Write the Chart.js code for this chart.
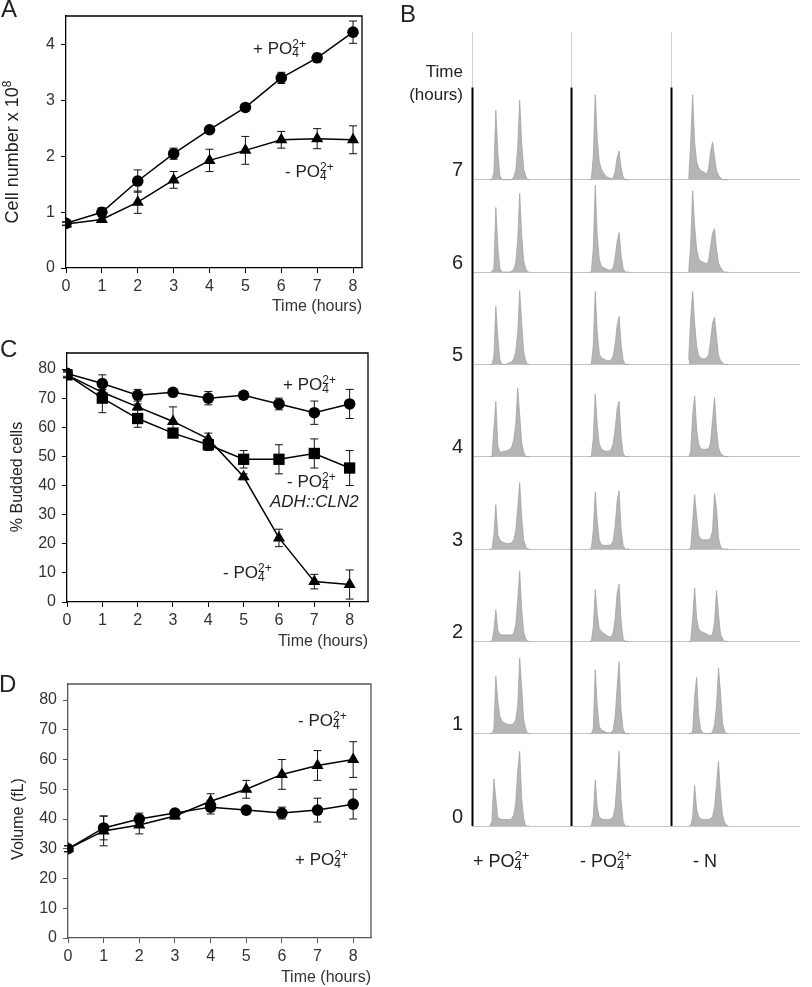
<!DOCTYPE html>
<html>
<head>
<meta charset="utf-8">
<script src="https://cdn.jsdelivr.net/npm/chart.js@4.4.1/dist/chart.umd.min.js"></script>
<style>
body{margin:0;background:#fff;font-family:"Liberation Sans",Arial,sans-serif;color:#222}
#wrap{position:relative;width:812px;height:987px;overflow:hidden}
canvas{position:absolute}
.t{position:absolute;white-space:nowrap;font-size:17px;line-height:17px}
.t .sb{font-size:12px;position:relative;top:3px}
.t .sp{font-size:12px;position:relative;top:-6px;margin-left:-6.7px}
.b{font-size:18px;line-height:18px}
.b .sb{font-size:13px}
.b .sp{font-size:13px;top:-7px;margin-left:-7.2px}
.letter{position:absolute;font-size:24px;line-height:24px}
.yt{position:absolute;transform:translate(-50%,-50%) rotate(-90deg);font-size:16px;line-height:16px;white-space:nowrap}
.yt .sup{font-size:12px;position:relative;top:-7px}
</style>
</head>
<body>
<div id="wrap">
  <canvas id="chartA" width="380" height="316" style="left:0;top:0"></canvas>
  <canvas id="chartC" width="380" height="321" style="left:0;top:330px"></canvas>
  <canvas id="chartD" width="380" height="327" style="left:0;top:660px"></canvas>
  <canvas id="chartB" width="412" height="987" style="left:400px;top:0"></canvas>

  <div class="letter" style="left:1px;top:-3px">A</div>
  <div class="letter" style="left:400px;top:2px">B</div>
  <div class="letter" style="left:0;top:337px">C</div>
  <div class="letter" style="left:-1px;top:672px">D</div>

  <div class="yt" style="left:13px;top:152px;font-size:18px">Cell number x 10<span class="sup">8</span></div>
  <div class="yt" style="left:17px;top:477px">% Budded cells</div>
  <div class="yt" style="left:18px;top:819px">Volume (fL)</div>

  <div class="t" style="left:253px;top:40px">+ PO<span class="sb">4</span><span class="sp">2+</span></div>
  <div class="t" style="left:285px;top:163px">- PO<span class="sb">4</span><span class="sp">2+</span></div>

  <div class="t" style="left:283px;top:376px">+ PO<span class="sb">4</span><span class="sp">2+</span></div>
  <div class="t" style="left:287px;top:473px">- PO<span class="sb">4</span><span class="sp">2+</span></div>
  <div class="t" style="left:270px;top:493px;font-style:italic">ADH::CLN2</div>
  <div class="t" style="left:223px;top:564px">- PO<span class="sb">4</span><span class="sp">2+</span></div>

  <div class="t" style="left:298px;top:712px">- PO<span class="sb">4</span><span class="sp">2+</span></div>
  <div class="t" style="left:295px;top:851px">+ PO<span class="sb">4</span><span class="sp">2+</span></div>

  <div class="t" style="right:349px;top:63px">Time</div>
  <div class="t" style="right:349px;top:86px">(hours)</div>
  <div class="t b" style="left:473px;top:852px">+ PO<span class="sb">4</span><span class="sp">2+</span></div>
  <div class="t b" style="left:580px;top:852px">- PO<span class="sb">4</span><span class="sp">2+</span></div>
  <div class="t b" style="left:693px;top:852px">- N</div>
</div>
<script>
const hours = [0, 1, 2, 3, 4, 5, 6, 7, 8];

// A: cell number x 10^8
const cellsPlusPO4 = [0.80, 1.00, 1.56, 2.05, 2.48, 2.88, 3.41, 3.77, 4.23];
const cellsPlusPO4Err = [0.03, 0.08, 0.20, 0.10, 0.05, 0.05, 0.10, 0.08, 0.20];
const cellsMinusPO4 = [0.79, 0.87, 1.18, 1.58, 1.93, 2.11, 2.30, 2.32, 2.30];
const cellsMinusPO4Err = [0.03, 0.05, 0.20, 0.15, 0.20, 0.25, 0.15, 0.18, 0.25];

// C: % budded cells
const buddedPlusPO4 = [78.5, 75, 71, 72, 70, 71, 68, 65, 68];
const buddedPlusPO4Err = [1, 3, 2, 1, 2.3, 1, 2, 4, 5];
const buddedCLN2 = [78, 70, 63, 58, 54, 49, 49, 51, 46];
const buddedCLN2Err = [1, 5, 3, 1, 2, 3, 5, 5, 6];
const buddedMinusPO4 = [78, 72, 67, 62, 56, 43, 22, 7, 6];
const buddedMinusPO4Err = [1, 1, 1, 5, 2, 1, 3, 2.5, 5];

// D: volume (fL)
const volPlusPO4 = [30, 37, 40, 42, 44, 43, 42, 43, 45];
const volPlusPO4Err = [1, 4, 2, 1, 2.3, 1, 2, 4, 5];
const volMinusPO4 = [30, 36, 38, 41, 46, 50, 55, 58, 60];
const volMinusPO4Err = [1, 5, 3, 1, 2.5, 3, 5, 5, 6];

// B: DNA content histograms, one row per hour (0..7), counts as % of row height
const facsTimes = [0, 1, 2, 3, 4, 5, 6, 7];
const facsChannels = [18, 20, 22, 24, 26, 28, 30, 32, 34, 36, 38, 40, 42, 44, 46, 48, 50, 52, 54, 56, 58];
const facsPlusPO4 = [
  [0,5,51,30,9,8,7,7,7,7,7,8,12,25,60,81,30,8,0,0,0],
  [0,0,5,62,35,19,14,12,11,10,10,10,11,15,30,82,50,15,5,0,0],
  [0,0,12,34,12,8,7,7,7,7,7,7,9,18,45,76,35,10,3,0,0],
  [0,0,15,48,15,10,8,7,6,6,6,7,10,20,45,72,35,10,3,0,0],
  [0,0,30,60,12,5,5,6,6,7,8,11,18,35,74,45,15,5,0,0,0],
  [0,0,8,63,30,5,0,0,0,1,2,3,6,14,35,80,45,14,4,0,0],
  [0,0,4,70,28,4,0,0,0,0,0,1,3,10,35,85,40,12,4,0,0],
  [0,0,8,75,30,5,0,0,0,0,0,0,3,10,35,86,40,12,4,0,0]
];
const facsMinusPO4 = [
  [0,0,10,50,20,10,8,7,7,7,7,8,10,20,50,81,28,5,0,0,0],
  [0,0,5,69,30,8,4,3,2,1,1,1,4,18,50,78,25,5,0,0,0],
  [0,0,15,56,30,14,11,9,8,6,5,5,9,25,52,62,22,3,0,0,0],
  [0,0,20,62,30,10,5,4,4,4,4,5,9,25,52,63,22,4,0,0,0],
  [0,0,20,68,35,14,9,7,6,6,6,8,14,30,52,60,22,4,0,0,0],
  [0,0,20,79,35,12,7,6,5,4,4,5,9,22,42,52,22,5,0,0,0],
  [0,0,25,94,40,14,7,5,4,3,2,2,5,16,33,43,18,4,0,0,0],
  [0,0,25,92,45,20,12,8,5,3,2,1,2,9,24,31,13,3,0,0,0]
];
const facsMinusN = [
  [0,0,10,44,18,10,8,7,7,7,7,8,10,20,45,70,35,12,4,1,0],
  [0,0,3,40,61,20,5,1,0,0,0,0,2,10,30,71,45,12,3,0,0],
  [0,0,25,58,25,14,11,10,9,8,7,6,8,20,55,30,8,3,0,0,0],
  [0,0,30,59,35,15,11,10,10,10,10,12,20,60,45,12,3,0,0,0,0],
  [0,5,45,66,30,14,9,8,8,8,9,15,40,64,30,10,4,2,0,0,0],
  [5,50,79,45,20,10,7,6,6,7,10,25,45,51,30,10,4,2,0,0,0],
  [0,30,88,50,25,15,12,11,10,9,12,28,42,47,25,10,5,2,0,0,0],
  [0,40,92,40,20,13,10,9,8,6,12,30,41,25,10,5,2,0,0,0,0]
];
const facsMedia = [facsPlusPO4, facsMinusPO4, facsMinusN];
const facsColumnWidth = 100;

Chart.defaults.font.family = '"Liberation Sans", Arial, sans-serif';
Chart.defaults.color = '#333';

const errorBars = {
  id: 'errorBars',
  beforeDatasetsDraw(chart) {
    const { ctx, scales: { x, y } } = chart;
    ctx.save();
    ctx.strokeStyle = '#111';
    ctx.lineWidth = 1;
    chart.data.datasets.forEach(ds => {
      if (!ds.err) return;
      ds.data.forEach((p, i) => {
        const px = x.getPixelForValue(p.x);
        const top = y.getPixelForValue(p.y + ds.err[i]);
        const bot = y.getPixelForValue(p.y - ds.err[i]);
        ctx.beginPath();
        ctx.moveTo(px, top); ctx.lineTo(px, bot);
        ctx.moveTo(px - 4, top); ctx.lineTo(px + 4, top);
        ctx.moveTo(px - 4, bot); ctx.lineTo(px + 4, bot);
        ctx.stroke();
      });
    });
    ctx.restore();
  }
};

const frame = {
  id: 'frame',
  afterDraw(chart, args, opts) {
    if (!opts.color) return;
    const { ctx, chartArea: a } = chart;
    ctx.save();
    ctx.strokeStyle = opts.color;
    ctx.lineWidth = 1.3;
    ctx.beginPath();
    ctx.moveTo(a.left, a.top); ctx.lineTo(a.right, a.top); ctx.lineTo(a.right, a.bottom);
    ctx.stroke();
    ctx.restore();
  }
};

function series(values, err, marker, radius) {
  return {
    data: hours.map((h, i) => ({ x: h, y: values[i] })),
    err,
    pointStyle: marker,
    pointRadius: radius,
    pointBorderWidth: 0,
    borderColor: '#000',
    backgroundColor: '#000',
    borderWidth: 1.5,
    tension: 0
  };
}

function timeChart(id, datasets, box, lineColor) {
  return new Chart(document.getElementById(id), {
    type: 'line',
    data: { datasets },
    options: {
      responsive: false, animation: false, events: [],
      layout: { padding: { top: box.padTop, right: box.padRight, left: 0, bottom: 0 } },
      plugins: { legend: { display: false }, tooltip: { enabled: false }, frame: { color: lineColor } },
      scales: {
        x: {
          type: 'linear', min: 0, max: box.xMax,
          afterFit: s => { s.height = box.xHeight; },
          ticks: { stepSize: 1, includeBounds: false, padding: 4, font: { size: 16 } },
          grid: { drawOnChartArea: false, tickLength: 5, color: lineColor },
          border: { color: lineColor, width: 1.3 },
          title: { display: true, text: 'Time (hours)', align: 'end', font: { size: 16 }, padding: { top: 0, bottom: 0 } }
        },
        y: {
          min: 0, max: box.yMax,
          afterFit: s => { s.width = box.yWidth; },
          ticks: { stepSize: box.yStep, includeBounds: false, padding: 6, font: { size: 16 } },
          grid: { drawOnChartArea: false, tickLength: 5, color: lineColor },
          border: { color: lineColor, width: 1.3 }
        }
      }
    },
    plugins: [errorBars, frame]
  });
}

timeChart('chartA', [
  series(cellsPlusPO4, cellsPlusPO4Err, 'circle', 5.8),
  series(cellsMinusPO4, cellsMinusPO4Err, 'triangle', 7)
], { padTop: 16, padRight: 18, xHeight: 48, yWidth: 66, xMax: 8.25, yMax: 4.52, yStep: 1 }, '#000');

timeChart('chartC', [
  series(buddedPlusPO4, buddedPlusPO4Err, 'circle', 5.8),
  series(buddedCLN2, buddedCLN2Err, 'rect', 8),
  series(buddedMinusPO4, buddedMinusPO4Err, 'triangle', 7)
], { padTop: 23, padRight: 12, xHeight: 49, yWidth: 67, xMax: 8.52, yMax: 85.5, yStep: 10 }, '#000');

timeChart('chartD', [
  series(volPlusPO4, volPlusPO4Err, 'circle', 5.8),
  series(volMinusPO4, volMinusPO4Err, 'triangle', 7)
], { padTop: 24, padRight: 9, xHeight: 49, yWidth: 68, xMax: 8.5, yMax: 85.4, yStep: 10 }, '#555');

// B: flow cytometry grid
const dividers = {
  id: 'dividers',
  afterDatasetsDraw(chart) {
    const { ctx, scales: { x, y } } = chart;
    const rowTop = y.getPixelForValue(facsTimes.length);
    ctx.save();
    facsMedia.forEach((m, c) => {
      const px = Math.round(x.getPixelForValue(c * facsColumnWidth)) + 0.5;
      ctx.strokeStyle = '#cfcfcf'; ctx.lineWidth = 1;
      ctx.beginPath(); ctx.moveTo(px, rowTop); ctx.lineTo(px, y.top); ctx.stroke();
      ctx.strokeStyle = '#000'; ctx.lineWidth = 2;
      ctx.beginPath(); ctx.moveTo(px, y.getPixelForValue(0)); ctx.lineTo(px, rowTop); ctx.stroke();
    });
    ctx.restore();
  }
};

const facsSets = [];
facsMedia.forEach((medium, c) => {
  medium.forEach((counts, t) => {
    facsSets.push({
      data: facsChannels.map((ch, i) => ({ x: c * facsColumnWidth + ch, y: facsTimes[t] + counts[i] / 100 })),
      fill: { value: facsTimes[t] },
      backgroundColor: '#b5b5b5',
      borderColor: '#9c9c9c',
      borderWidth: 0.7,
      pointRadius: 0,
      tension: 0
    });
  });
});

new Chart(document.getElementById('chartB'), {
  type: 'line',
  data: { datasets: facsSets },
  options: {
    responsive: false, animation: false, events: [],
    layout: { padding: { top: 32, right: 12, bottom: 161, left: 0 } },
    plugins: { legend: { display: false }, tooltip: { enabled: false } },
    scales: {
      x: { type: 'linear', min: 0, max: 330, display: false },
      y: {
        min: 0, max: 8.6,
        afterFit: s => { s.width = 72; },
        afterBuildTicks: s => { s.ticks = facsTimes.map(v => ({ value: v })); },
        ticks: { padding: 9, labelOffset: -9, color: '#222', font: { size: 20 }, callback: v => String(v) },
        grid: { drawTicks: false, color: '#c4c4c4', lineWidth: 1 },
        border: { display: false }
      }
    }
  },
  plugins: [dividers]
});
</script>
</body>
</html>
